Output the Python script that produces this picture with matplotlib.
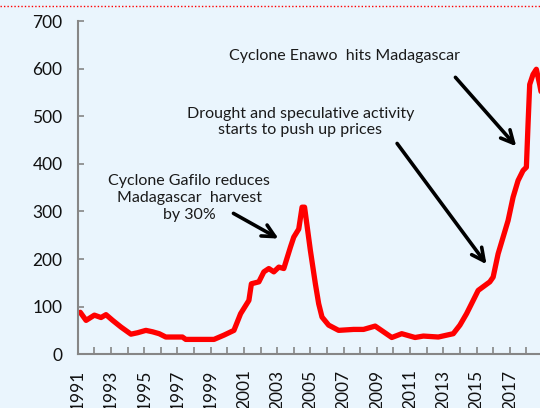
import matplotlib.pyplot as plt
import matplotlib.lines as mlines

# vanilla price (time in years, value)
years = [1991.15, 1991.5, 1992.0, 1992.4, 1992.7, 1993.1, 1993.6, 1994.2, 1994.6,
         1995.1, 1995.5, 1995.9, 1996.3, 1997.3, 1997.5, 1999.2, 1999.8, 2000.4,
         2000.8, 2001.3, 2001.45, 2001.9, 2002.2, 2002.5, 2002.8, 2003.1, 2003.4,
         2003.8, 2004.0, 2004.3, 2004.5, 2004.65, 2005.0, 2005.3, 2005.5, 2005.7,
         2006.1, 2006.7, 2007.6, 2008.2, 2008.9, 2009.4, 2009.9, 2010.5, 2011.3,
         2011.8, 2012.7, 2013.6, 2014.0, 2014.4, 2014.7, 2015.1, 2015.8, 2016.0,
         2016.3, 2016.6, 2016.9, 2017.2, 2017.5, 2017.8, 2018.0, 2018.1, 2018.2,
         2018.4, 2018.6, 2018.8, 2019.0]
price = [88, 71, 82, 77, 83, 71, 57, 42, 45,
         50, 47, 43, 36, 36, 31, 31, 40, 50,
         85, 113, 148, 152, 173, 180, 173, 183, 180,
         225, 246, 263, 309, 309, 218, 148, 106, 78,
         61, 50, 52, 52, 59, 47, 35, 43, 35,
         38, 36, 43, 61, 85, 106, 134, 152, 162,
         211, 246, 281, 330, 365, 386, 393, 483, 567,
         588, 599, 567, 530]

year_labels = [str(y) for y in range(1991, 2019, 2)]
bg = '#EAF5FD'

plt.rcParams['font.family'] = ['Lato', 'DejaVu Sans']

fig = plt.figure(figsize=(5.4, 4.08), dpi=100, facecolor=bg)
ax = fig.add_axes([0.144, 0.132, 0.88, 0.816], facecolor=bg)

ax.plot(years, price, color='#FF0000', lw=3.8, solid_capstyle='round',
        solid_joinstyle='round')

ax.set_xlim(1991, 2019.6)
ax.set_ylim(0, 700)
ax.set_yticks(range(0, 701, 100))
ax.set_xticks([int(s) for s in year_labels])
ax.set_xticklabels(year_labels, rotation=90)
ax.set_xticks(range(1992, 2020), minor=True)

for s in ['top', 'right']:
    ax.spines[s].set_visible(False)
for s in ['left', 'bottom']:
    ax.spines[s].set_color('#868686')
    ax.spines[s].set_linewidth(1.5)

ax.tick_params(axis='y', direction='in', length=4.5, width=1.2, color='#868686',
               labelsize=12.5, pad=11, labelcolor='#111111')
ax.tick_params(axis='x', which='both', direction='in', length=5, width=1.2,
               color='#868686', labelsize=12.5, pad=11, labelcolor='#111111')

txt = dict(ha='center', va='center', fontsize=11.5, color='#1a1a1a', linespacing=1.25)
arrow = dict(arrowstyle='->,head_length=0.9,head_width=0.45', lw=2.6, color='black',
             shrinkA=0, shrinkB=0)

ax.text(1997.7, 328, 'Cyclone Gafilo reduces\nMadagascar  harvest\nby 30%', **txt)
ax.annotate('', xy=(2003.08, 243), xytext=(2000.37, 296), arrowprops=arrow)

ax.text(2004.4, 488, 'Drought and speculative activity\nstarts to push up prices', **txt)
ax.annotate('', xy=(2015.6, 189), xytext=(2010.22, 443), arrowprops=arrow)

ax.text(2007.07, 626, 'Cyclone Enawo  hits Madagascar', **txt)
ax.annotate('', xy=(2017.39, 437), xytext=(2013.73, 582), arrowprops=arrow)

# dotted red rule along the top edge
fig.add_artist(mlines.Line2D([0, 1], [0.9865, 0.9865], transform=fig.transFigure,
                             color='#FF0000', lw=1, ls=(0, (1, 1.5))))

fig.savefig('out.png', dpi=100, facecolor=bg)
